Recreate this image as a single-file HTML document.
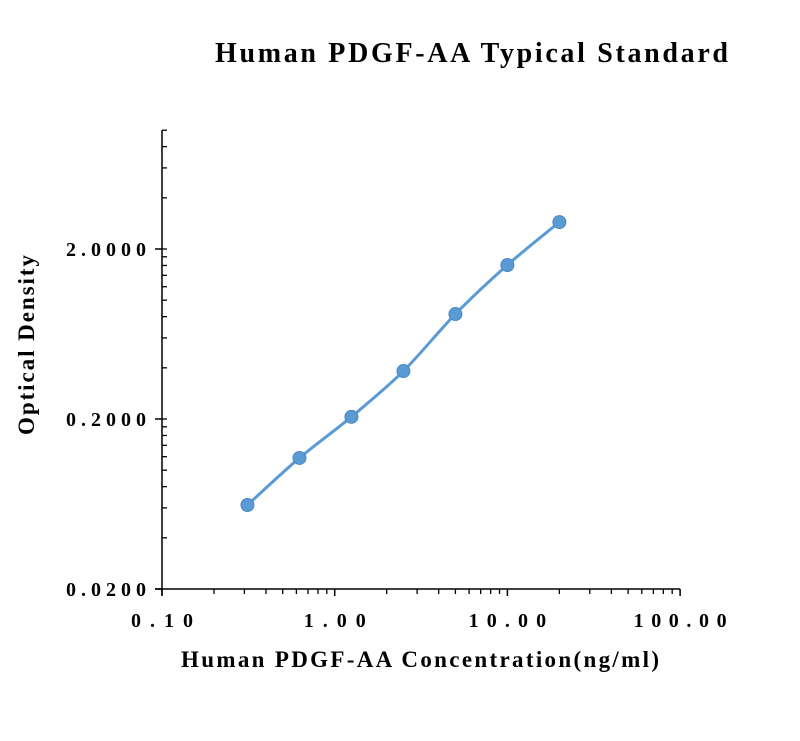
<!DOCTYPE html>
<html><head><meta charset="utf-8"><style>
body{margin:0;background:#fff;}
svg text{font-family:"Liberation Serif",serif;font-weight:bold;fill:#000;}
</style></head><body>
<svg width="800" height="736">
<text x="215" y="62" font-size="28" textLength="513" lengthAdjust="spacing">Human PDGF-AA Typical Standard</text>
<g id="axes"></g>
<g id="marks"></g>
<text x="181" y="667" font-size="23" textLength="478" lengthAdjust="spacing">Human PDGF-AA Concentration(ng/ml)</text>
<text transform="translate(34,435) rotate(-90)" font-size="23" textLength="180" lengthAdjust="spacing">Optical Density</text>
</svg>
<script>
const concentrations=[0.3125,0.625,1.25,2.5,5,10,20];
const odValues=[0.0624,0.118,0.206,0.383,0.829,1.61,2.88];
const xTickLabels=["0.10","1.00","10.00","100.00"];
const xTickValues=[0.1,1,10,100];
const yTickLabels=["0.0200","0.2000","2.0000"];
const yTickValues=[0.02,0.2,2];
const NS="http://www.w3.org/2000/svg";
const X0=162,XPD=172.7,Y0=589,YPD=170,YTOP=130;
function xs(v){return X0+XPD*Math.log10(v/0.1);}
function ys(v){return Y0-YPD*Math.log10(v/0.02);}
function mk(tag,attrs,parent){const e=document.createElementNS(NS,tag);for(const k in attrs)e.setAttribute(k,attrs[k]);parent.appendChild(e);return e;}
const ax=document.getElementById('axes');
let e=mk('line',{x1:X0,y1:YTOP,x2:X0,y2:Y0+6,stroke:'#000','stroke-width':1.5},ax);


e=mk('line',{x1:X0-7,y1:Y0,x2:xs(100),y2:Y0,stroke:'#000','stroke-width':1.5},ax);


[0.02,0.2,2].forEach(d=>{for(let k=2;k<=10;k++){const v=d*k;if(v>10.01)break;mk('line',{x1:X0,y1:ys(v),x2:X0+5,y2:ys(v),stroke:'#000','stroke-width':1.3},ax);}});
yTickValues.forEach((v,i)=>{mk('line',{x1:X0-7,y1:ys(v),x2:X0,y2:ys(v),stroke:'#000','stroke-width':1.5},ax);
const t=mk('text',{x:66,y:ys(v)+7,'font-size':20,textLength:80,lengthAdjust:'spacing'},ax);t.textContent=yTickLabels[i];

});
[0.1,1,10].forEach(d=>{for(let k=2;k<=9;k++){const x=xs(d*k);mk('line',{x1:x,y1:Y0,x2:x,y2:Y0+5,stroke:'#000','stroke-width':1.3},ax);}});
xTickValues.forEach((v,i)=>{mk('line',{x1:xs(v),y1:Y0,x2:xs(v),y2:Y0+7,stroke:'#000','stroke-width':1.5},ax);
const L=xTickLabels[i].length*15.5;
const t=mk('text',{x:xs(v)-L/2,y:Y0+38,'font-size':20,textLength:L,lengthAdjust:'spacing'},ax);t.textContent=xTickLabels[i];

});
const m=document.getElementById('marks');
const P=concentrations.map((c,i)=>[xs(c),ys(odValues[i])]);
let d=`M${P[0][0]},${P[0][1]}`;
for(let i=0;i<P.length-1;i++){const p0=P[Math.max(0,i-1)],p1=P[i],p2=P[i+1],p3=P[Math.min(P.length-1,i+2)];
d+=` C${p1[0]+(p2[0]-p0[0])/6},${p1[1]+(p2[1]-p0[1])/6} ${p2[0]-(p3[0]-p1[0])/6},${p2[1]-(p3[1]-p1[1])/6} ${p2[0]},${p2[1]}`;}
e=mk('path',{d:d,fill:'none',stroke:'#5b9bd5','stroke-width':3},m);


P.forEach(p=>{const c=mk('circle',{cx:p[0],cy:p[1],r:6.5,fill:'#5b9bd5',stroke:'#4a86c0','stroke-width':1},m);

});
</script>
</body></html>
